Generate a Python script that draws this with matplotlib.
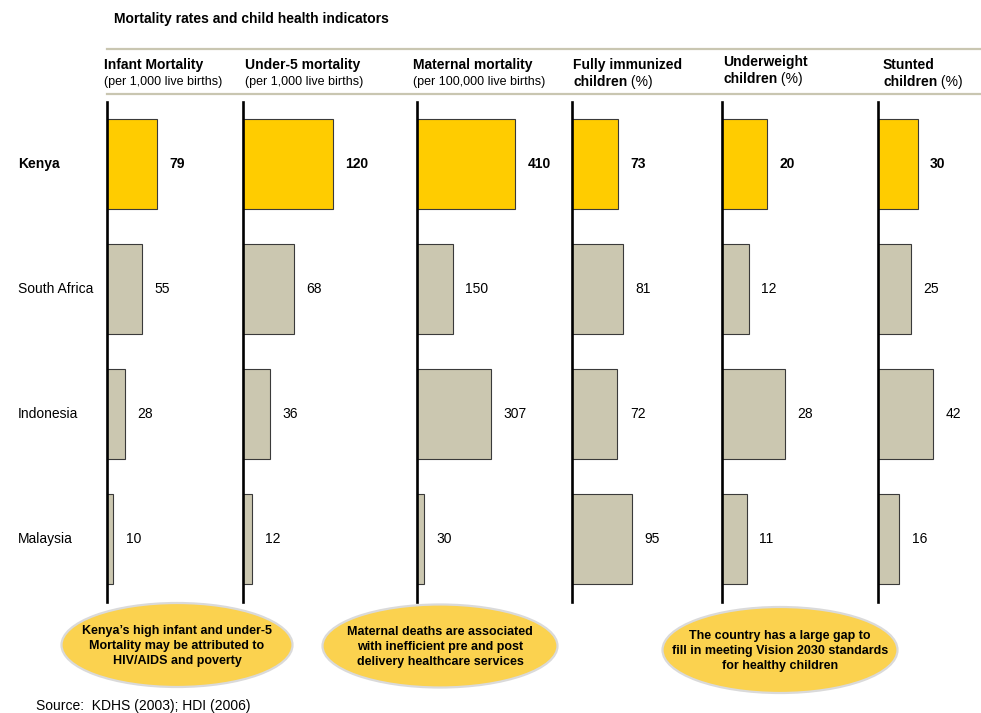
import numpy as np
import matplotlib
matplotlib.use("Agg")
import matplotlib.pyplot as plt
from matplotlib.lines import Line2D
from matplotlib.patches import Ellipse
from matplotlib.transforms import blended_transform_factory

plt.rcParams['font.family'] = ['Liberation Sans', 'DejaVu Sans']

# data
title = "Mortality rates and child health indicators"
countries = ["Kenya", "South Africa", "Indonesia", "Malaysia"]
headers = ["Infant Mortality", "Under-5 mortality", "Maternal mortality",
           "Fully immunized", "Underweight", "Stunted"]
units = ["(per 1,000 live births)", "(per 1,000 live births)",
         "(per 100,000 live births)", "(%)", "(%)", "(%)"]
infant = [79, 55, 28, 10]
under5 = [120, 68, 36, 12]
maternal = [410, 150, 307, 30]
immunized = [73, 81, 72, 95]
underweight = [20, 12, 28, 11]
stunted = [30, 25, 42, 16]
notes = ["Kenya\u2019s high infant and under-5\nMortality may be attributed to\nHIV/AIDS and poverty",
         "Maternal deaths are associated\nwith inefficient pre and post\ndelivery healthcare services",
         "The country has a large gap to\nfill in meeting Vision 2030 standards\nfor healthy children"]
source = "Source:  KDHS (2003); HDI (2006)"

series = [infant, under5, maternal, immunized, underweight, stunted]

# layout (pixels)
W, H = 981, 713
panel_x = [107, 243, 417, 572, 722, 878]
px_per_unit = [0.63, 0.75, 0.24, 0.63, 2.25, 1.32]
header_x = [104, 245, 413, 573, 723, 883]
header_y = [65, 65, 65, 65, 62, 65]
note_boxes = [(177, 645, 231, 84), (440, 646, 235, 83), (780, 650, 235, 86)]
top, bottom = 101.5, 602
panel_w = 125

kenya_col = '#FFCC00'
other_col = '#CBC7B0'
rule_col = '#C9C6B1'


def fx(x):
    return x / W


def fy(y):
    return 1 - y / H


fig = plt.figure(figsize=(W / 100, H / 100), dpi=100)

fig.text(fx(114), fy(19), title, fontsize=10, fontweight='bold', va='center')
for yy in (49, 94):
    fig.add_artist(Line2D([fx(107), 1], [fy(yy), fy(yy)], transform=fig.transFigure,
                          color=rule_col, lw=1.6))

axes = []
for i, vals in enumerate(series):
    ax = fig.add_axes([fx(panel_x[i]), fy(bottom), panel_w / W, (bottom - top) / H])
    ax.patch.set_visible(False)
    ax.set_xlim(0, panel_w / px_per_unit[i])
    ax.set_ylim(len(countries) - 0.5, -0.5)
    ypos = np.arange(len(countries))
    cols = [kenya_col] + [other_col] * (len(countries) - 1)
    ax.barh(ypos, vals, height=0.72, color=cols, edgecolor='#3a3a3a', lw=0.8, zorder=2)
    for j, v in enumerate(vals):
        ax.annotate(str(v), xy=(v, j), xytext=(9, 0), textcoords='offset points',
                    va='center', ha='left', fontsize=10,
                    fontweight='bold' if j == 0 else 'normal', annotation_clip=False)
    for s in ['top', 'right', 'bottom']:
        ax.spines[s].set_visible(False)
    ax.spines['left'].set_linewidth(1.9)
    ax.spines['left'].set_color('black')
    ax.spines['left'].set_zorder(3)
    ax.set_xticks([])
    ax.set_yticks([])
    axes.append(ax)

    # headers
    hx, hy = fx(header_x[i]), fy(header_y[i])
    fig.text(hx, hy, headers[i], fontsize=10, fontweight='bold', va='center')
    if units[i] == "(%)":
        t = fig.text(hx, fy(header_y[i] + 17), "children", fontsize=10,
                     fontweight='bold', va='center')
        ax.annotate(" " + units[i], xy=(1, 0), xycoords=t, va='bottom', ha='left',
                    fontsize=10, annotation_clip=False)
    else:
        fig.text(hx, fy(header_y[i] + 17), units[i], fontsize=9, va='center')

# country labels
tr = blended_transform_factory(fig.transFigure, axes[0].transData)
for j, c in enumerate(countries):
    axes[0].text(fx(18), j, c, transform=tr, va='center', ha='left', fontsize=10,
                 fontweight='bold' if j == 0 else 'normal')

# notes
for (cx, cy, ew, eh), txt in zip(note_boxes, notes):
    fig.add_artist(Ellipse((fx(cx), fy(cy)), ew / W, eh / H, transform=fig.transFigure,
                           facecolor='#FBD24F', edgecolor='#DADADA', lw=1.6))
    fig.text(fx(cx), fy(cy + 1), txt, ha='center', va='center', fontsize=9,
             fontweight='bold', linespacing=1.3)

fig.text(fx(36), fy(706), source, fontsize=10, va='center')

fig.savefig("out.png", dpi=100)
